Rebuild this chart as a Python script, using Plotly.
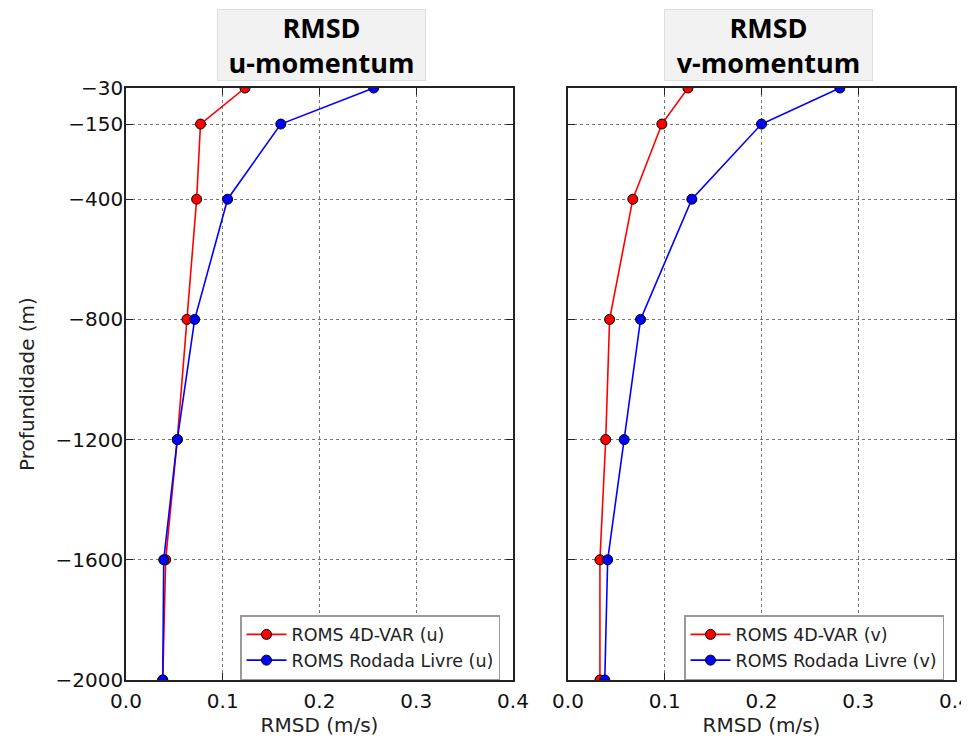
import plotly.graph_objects as go

depths = [-30, -150, -400, -800, -1200, -1600, -2000]
u_4dvar = [0.123, 0.077, 0.073, 0.063, 0.053, 0.041, 0.038]
u_livre = [0.256, 0.160, 0.105, 0.071, 0.053, 0.039, 0.038]
v_4dvar = [0.124, 0.097, 0.067, 0.043, 0.039, 0.033, 0.033]
v_livre = [0.281, 0.200, 0.128, 0.075, 0.058, 0.041, 0.038]

ytick_vals = [-30, -150, -400, -800, -1200, -1600, -2000]
xtick_vals = [0.0, 0.1, 0.2, 0.3, 0.4]
xtick_text = ["0.0", "0.1", "0.2", "0.3", "0.4"]

W, H = 969, 741
OFF = 8  # page body margin


def fx(px):
    return (px - OFF) / W


def fy(py):
    return 1 - (py - OFF) / H


RED = "#ff0000"
BLUE = "#0000ff"

fig = go.Figure()


def add(x, name, color, xa, ya, legend):
    fig.add_trace(go.Scatter(
        x=x, y=depths, mode="lines+markers", name=name,
        line=dict(color=color, width=1.6),
        marker=dict(color=color, size=10, line=dict(color="black", width=1)),
        xaxis=xa, yaxis=ya, legend=legend))


add(u_4dvar, "ROMS 4D-VAR (u)", RED, "x", "y", "legend")
add(u_livre, "ROMS Rodada Livre (u)", BLUE, "x", "y", "legend")
add(v_4dvar, "ROMS 4D-VAR (v)", RED, "x2", "y2", "legend2")
add(v_livre, "ROMS Rodada Livre (v)", BLUE, "x2", "y2", "legend2")

ydom = [fy(680), fy(88)]
tickfont = dict(family="DejaVu Sans", size=20, color="#111111")

axis_common = dict(
    showline=True, linecolor="#222222", linewidth=1.5, mirror="ticks",
    ticks="inside", ticklen=7, tickwidth=1.2, tickcolor="#222222",
    showgrid=True, gridcolor="#777777", griddash="dot", gridwidth=1,
    zeroline=False, tickfont=tickfont,
)

legend_common = dict(
    xanchor="left", yanchor="top",
    bgcolor="white", bordercolor="#9a9a9a", borderwidth=1.5,
    font=dict(family="DejaVu Sans", size=17.5, color="#222222"),
    tracegroupgap=0, itemwidth=40,
)

fig.update_layout(
    width=W, height=H,
    margin=dict(l=0, r=0, t=0, b=0),
    paper_bgcolor="white", plot_bgcolor="white",
    font=dict(family="DejaVu Sans", color="#222222"),
    xaxis=dict(domain=[fx(126), fx(513)], range=[0, 0.4], tickvals=xtick_vals,
               ticktext=xtick_text, automargin=False, ticklabelstandoff=2,
               title=dict(text="RMSD (m/s)", font=dict(size=20), standoff=6),
               **axis_common),
    yaxis=dict(domain=ydom, range=[-2000, -30], tickvals=ytick_vals,
               automargin=False, anchor="x", ticklabelstandoff=-3,
               title=dict(text="Profundidade (m)", font=dict(size=20), standoff=16),
               **axis_common),
    xaxis2=dict(domain=[fx(568), fx(955)], range=[0, 0.4], tickvals=xtick_vals,
                ticktext=xtick_text, automargin=False, anchor="y2", ticklabelstandoff=2,
                title=dict(text="RMSD (m/s)", font=dict(size=20), standoff=6),
                **axis_common),
    yaxis2=dict(domain=ydom, range=[-2000, -30], tickvals=ytick_vals,
                showticklabels=False, automargin=False, anchor="x2",
                **axis_common),
    legend=dict(x=fx(240), y=fy(615), **legend_common),
    legend2=dict(x=fx(684), y=fy(615), **legend_common),
)

for cx, cy, txt in [(321.5, 45, "RMSD<br>u-momentum"), (768.5, 45.5, "RMSD<br>v-momentum")]:
    fig.add_annotation(
        x=fx(cx), y=fy(cy), xref="paper", yref="paper",
        xanchor="center", yanchor="middle", showarrow=False,
        text="<b>" + txt + "</b>",
        font=dict(family="Open Sans", size=27, color="black"),
        bgcolor="#f2f2f2", bordercolor="#dedede", borderwidth=1,
        width=205, height=68, borderpad=1,
    )

fig.write_html("out.html")
